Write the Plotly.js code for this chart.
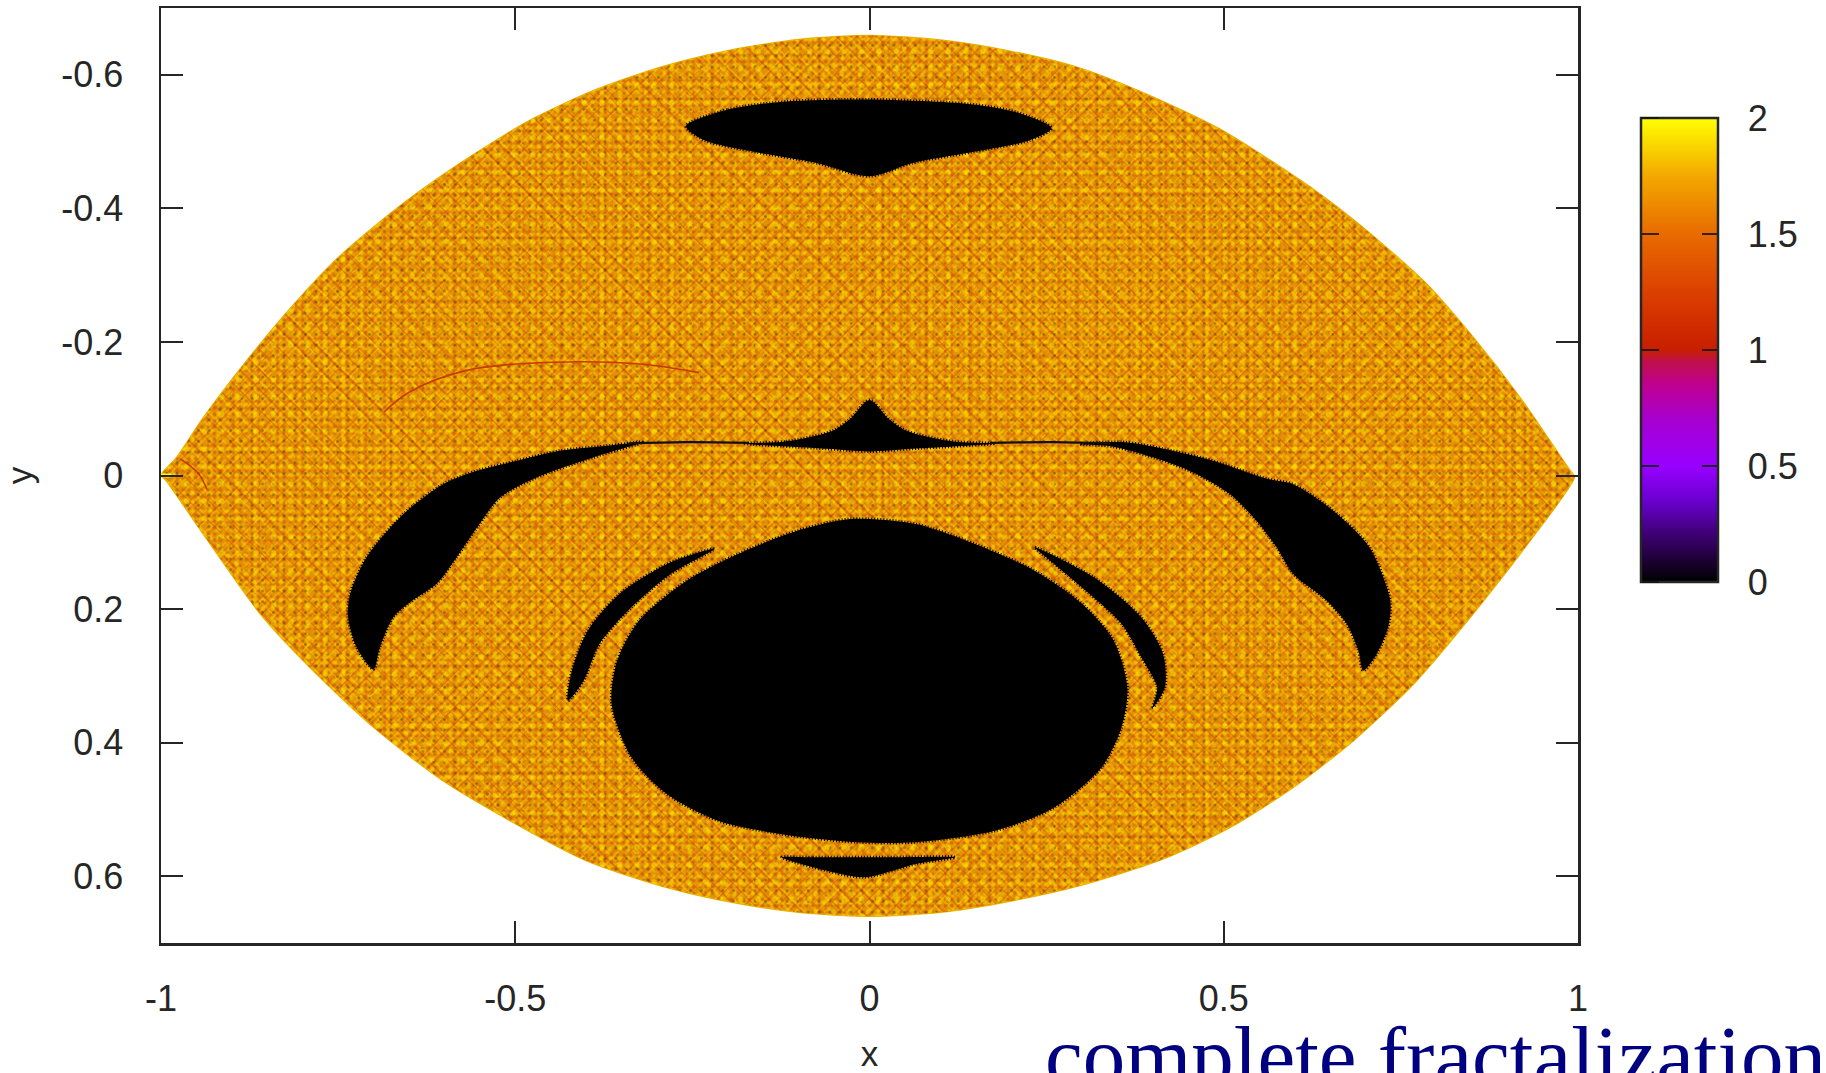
<!DOCTYPE html>
<html><head><meta charset="utf-8">
<script src="https://cdn.plot.ly/plotly-3.0.1.min.js"></script>
<style>html,body{margin:0;padding:0;background:#fff;overflow:hidden}#c{width:1826px;height:1073px}</style>
</head><body><div id="c"></div>
<script>
const xTickVals=[-1,-0.5,0,0.5,1];
const xTickText=['-1','-0.5','0','0.5','1'];
const yTickVals=[-0.6,-0.4,-0.2,0,0.2,0.4,0.6];
const yTickText=['-0.6','-0.4','-0.2','0','0.2','0.4','0.6'];
const barTickVals=[0,0.5,1,1.5,2];
const barTickText=['0','0.5','1','1.5','2'];
const lensX=[-1,-0.978,-0.94,-0.879,-0.82,-0.752,-0.672,-0.587,-0.484,-0.39,-0.296,-0.2,-0.1,0,0.1,0.2,0.297,0.391,0.499,0.626,0.697,0.786,0.852,0.918,0.989,0.995,0.932,0.852,0.768,0.683,0.598,0.509,0.415,0.297,0.2,0.1,0,-0.1,-0.2,-0.296,-0.399,-0.507,-0.602,-0.7,-0.79,-0.86,-0.94,-0.994,-1];
const lensY=[0,-0.027,-0.087,-0.172,-0.247,-0.324,-0.396,-0.461,-0.529,-0.576,-0.611,-0.636,-0.653,-0.659,-0.652,-0.635,-0.61,-0.571,-0.516,-0.429,-0.371,-0.287,-0.207,-0.117,-0.007,0.002,0.098,0.207,0.312,0.397,0.467,0.527,0.574,0.614,0.637,0.654,0.66,0.654,0.638,0.614,0.577,0.517,0.457,0.377,0.287,0.207,0.088,0.006,0];
const topX=[-0.259,-0.2,-0.118,0,0.143,0.21,0.257,0.226,0.143,0.061,0,-0.077,-0.159,-0.233,-0.259];
const topY=[-0.523,-0.548,-0.56,-0.563,-0.556,-0.543,-0.52,-0.502,-0.484,-0.468,-0.448,-0.4685,-0.484,-0.502,-0.523];
const cuspX=[-0.1755,-0.118,-0.052,-0.027,0,0.027,0.052,0.118,0.1755,0.06,0,-0.06,-0.1755];
const cuspY=[-0.048,-0.051,-0.067,-0.085,-0.113,-0.085,-0.067,-0.051,-0.048,-0.04,-0.036,-0.04,-0.048];
const wireX=[-0.34,-0.26,-0.17,null,0.17,0.26,0.34];
const wireY=[-0.048,-0.05,-0.049,null,-0.049,-0.05,-0.048];
const leftCrescentX=[-0.32,-0.366,-0.437,-0.498,-0.554,-0.602,-0.658,-0.71,-0.733,-0.736,-0.724,-0.7,-0.691,-0.672,-0.649,-0.611,-0.583,-0.554,-0.5215,-0.47,-0.39,-0.32];
const leftCrescentY=[-0.05,-0.045,-0.037,-0.022,-0.007,0.013,0.058,0.1226,0.177,0.212,0.257,0.29,0.257,0.212,0.19,0.162,0.1226,0.078,0.033,0.003,-0.027,-0.05];
const rightCrescentX=[0.297,0.358,0.415,0.485,0.561,0.598,0.655,0.706,0.735,0.732,0.716,0.697,0.69,0.6735,0.645,0.598,0.575,0.5465,0.509,0.462,0.415,0.344,0.297];
const rightCrescentY=[-0.047,-0.05,-0.04,-0.022,0.005,0.013,0.053,0.108,0.187,0.227,0.267,0.292,0.262,0.222,0.187,0.147,0.108,0.068,0.028,-0.002,-0.022,-0.043,-0.047];
const diskX=[-0.027,0.0655,0.149,0.233,0.3,0.3445,0.364,0.3557,0.3277,0.261,0.177,0.0655,-0.018,-0.124,-0.2135,-0.286,-0.336,-0.364,-0.356,-0.325,-0.258,-0.1857,-0.102,-0.027];
const diskY=[0.065,0.0726,0.1025,0.1425,0.192,0.247,0.317,0.377,0.437,0.497,0.532,0.549,0.549,0.537,0.517,0.477,0.422,0.342,0.277,0.217,0.1575,0.1175,0.0826,0.065];
const innerLeftX=[-0.219,-0.2806,-0.353,-0.3977,-0.42,-0.4257,-0.4034,-0.381,-0.336,-0.2806,-0.219];
const innerLeftY=[0.11,0.13,0.1774,0.2323,0.292,0.337,0.307,0.252,0.1974,0.1475,0.11];
const innerRightX=[0.233,0.3166,0.3836,0.4143,0.417,0.4,0.406,0.3836,0.3557,0.3056,0.255,0.233];
const innerRightY=[0.1076,0.1525,0.2124,0.267,0.317,0.347,0.317,0.272,0.222,0.1725,0.1275,0.1076];
const lowX=[-0.124,-0.08,0.02,0.121,0.0655,-0.007,-0.06,-0.124];
const lowY=[0.5717,0.5717,0.5717,0.5717,0.5816,0.6016,0.592,0.5717];
const redCurveX=[-0.685,-0.651,-0.57,-0.447,-0.324,-0.241];
const redCurveY=[-0.095,-0.124,-0.157,-0.1695,-0.167,-0.154];
const tipCurveX=[-0.973,-0.948,-0.935];
const tipCurveY=[-0.025,-0.004,0.021];
const tipMarkX=[-1,-0.985];
const tipMarkY=[0,0];
const barRange=[0,2];

const ink='#262626';
const font={family:'"Liberation Sans",Arial,sans-serif',size:36,color:ink};
const scale=[[0,'#000000'],[0.1,'#3c0070'],[0.175,'#6a00d0'],[0.25,'#9800ff'],[0.35,'#a800d0'],[0.425,'#c00090'],[0.475,'#c0104a'],[0.5,'#c81e00'],[0.625,'#db4000'],[0.75,'#e86b00'],[0.875,'#f4a800'],[1,'#ffff00']];

const patterns=[
 {shape:'/',fgcolor:'#ffd000',size:7.3,solidity:0.2},
 {shape:'\\',fgcolor:'#ffd800',size:9.7,solidity:0.16},
 {shape:'.',fgcolor:'#cf4200',size:6.3,solidity:0.24},
 {shape:'.',fgcolor:'#ffe000',size:8.9,solidity:0.2},
 {shape:'/',fgcolor:'#cc4400',size:11.9,solidity:0.1},
 {shape:'\\',fgcolor:'#c83e00',size:14.3,solidity:0.09},
 {shape:'.',fgcolor:'#4a3200',size:10.7,solidity:0.05},
 {shape:'.',fgcolor:'#fff000',size:17.3,solidity:0.08}
];
const base={type:'scatter',mode:'lines',hoverinfo:'skip',showlegend:false};
const spline={shape:'spline',smoothing:0.7,width:0};
const traces=[];
traces.push({...base,x:lensX,y:lensY,fill:'toself',fillcolor:'#e09208',line:{...spline,width:1.5,color:'#e8b000'}});
patterns.forEach(p=>traces.push({...base,x:lensX,y:lensY,fill:'toself',fillcolor:'rgba(0,0,0,0)',
  fillpattern:{...p,bgcolor:'rgba(0,0,0,0)',fillmode:'overlay'},line:spline}));
traces.push({...base,x:redCurveX,y:redCurveY,line:{color:'#c83a00',width:1.6,shape:'spline'}});
traces.push({...base,x:tipCurveX,y:tipCurveY,line:{color:'#c83a00',width:1.6,shape:'spline'}});
traces.push({...base,x:tipMarkX,y:tipMarkY,line:{color:'#ffff00',width:4}});
[[topX,topY],[cuspX,cuspY],[leftCrescentX,leftCrescentY],[rightCrescentX,rightCrescentY],[diskX,diskY],[innerLeftX,innerLeftY],[innerRightX,innerRightY],[lowX,lowY]].forEach(([x,y])=>{
  traces.push({...base,x,y,fill:'toself',fillcolor:'#000',line:{shape:'spline',smoothing:0.8,width:3,color:'#000',dash:'1px,2px'}});
});
traces.push({...base,x:wireX,y:wireY,line:{color:'#111',width:2.2,shape:'spline'}});
const barY=1-(118-8)/935;
const barCommon={xref:'paper',yref:'paper',yanchor:'top',y:barY,len:464,lenmode:'pixels',tickmode:'array',tickvals:barTickVals,ypad:0,xpad:0};
const barMarker=(colorscale,colorbar)=>({type:'scatter',mode:'markers',x:[null,null],y:[null,null],hoverinfo:'skip',showlegend:false,
  marker:{size:1,color:barRange,cmin:barRange[0],cmax:barRange[1],colorscale,showscale:true,colorbar}});
const clear=[[0,'rgba(0,0,0,0)'],[1,'rgba(0,0,0,0)']];
const tickInk='rgba(20,20,20,0.85)';
traces.push(barMarker(scale,{...barCommon,x:(1641-161)/1417,xanchor:'left',thickness:77,ticks:'inside',ticklen:17,tickwidth:2,tickcolor:tickInk,outlinewidth:2.5,outlinecolor:ink,showticklabels:false,borderwidth:0}));
traces.push(barMarker(clear,{...barCommon,x:(1640-161)/1417,xanchor:'left',thickness:2,ticks:'outside',ticklen:17,tickwidth:2,tickcolor:tickInk,outlinewidth:0,showticklabels:false,bgcolor:'rgba(0,0,0,0)'}));
traces.push(barMarker(clear,{...barCommon,x:(1738-161)/1417,xanchor:'left',thickness:2,ticks:'',ticktext:barTickText,outlinewidth:0,tickfont:font,bgcolor:'rgba(0,0,0,0)'}));

const axisCommon={showgrid:false,zeroline:false,showline:true,linecolor:ink,linewidth:2.5,mirror:'ticks',ticks:'inside',ticklen:22,tickwidth:2,tickcolor:ink,tickfont:font};
const layout={width:1826,height:1073,margin:{l:161,r:248,t:8,b:130,autoexpand:false},paper_bgcolor:'#fff',plot_bgcolor:'#fff',showlegend:false,
  xaxis:{...axisCommon,range:[-1,1],tickmode:'array',tickvals:xTickVals,ticktext:xTickText,ticklabelstandoff:22,title:{text:'x',font:{...font,size:35},standoff:28}},
  yaxis:{...axisCommon,range:[0.7,-0.7],tickmode:'array',tickvals:yTickVals,ticktext:yTickText,ticklabelstandoff:28,title:{text:'y',font:{...font,size:35},standoff:18}},
  annotations:[{xref:'paper',yref:'paper',x:(1043-161)/1417,y:-(1082-943)/935,xanchor:'left',yanchor:'bottom',yshift:-23,showarrow:false,align:'left',
    text:'complete fractalization',font:{family:'"Liberation Serif","Times New Roman",serif',size:85,color:'#000080'}}]};
Plotly.newPlot('c',traces,layout,{displayModeBar:false,staticPlot:true});
</script></body></html>
